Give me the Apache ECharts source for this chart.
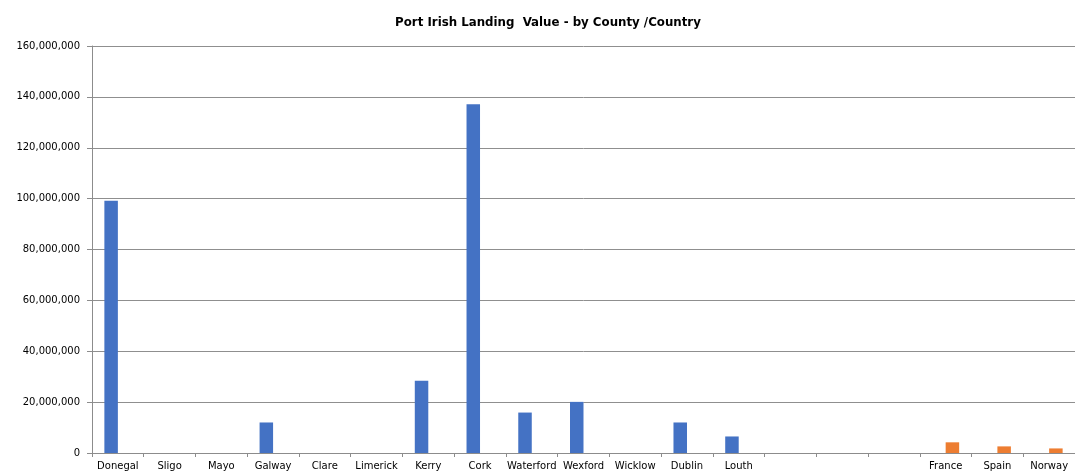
<!DOCTYPE html>
<html>
<head>
<meta charset="utf-8">
<script src="https://cdn.jsdelivr.net/npm/echarts@6/dist/echarts.min.js"></script>
<style>
  html, body { margin: 0; padding: 0; background: #fff; }
  #chart { width: 1075px; height: 475px; }
</style>
</head>
<body>
<div id="chart"></div>
<script>
// categories: Irish counties, three empty slots, then foreign countries
var categories = ['Donegal', 'Sligo', 'Mayo', 'Galway', 'Clare', 'Limerick', 'Kerry', 'Cork',
  'Waterford', 'Wexford', 'Wicklow', 'Dublin', 'Louth', '', ' ', '  ', 'France', 'Spain', 'Norway'];

// landing value by county (blue)
var countyValues = [99200000, null, null, 12000000, null, null, 28400000, 137100000,
  15900000, 20100000, null, 12000000, 6500000, null, null, null, null, null, null];

// landing value by country (orange)
var countryValues = [null, null, null, null, null, null, null, null,
  null, null, null, null, null, null, null, null, 4200000, 2600000, 1800000];

var yTicks = { min: 0, max: 160000000, interval: 20000000 };

var chart = echarts.init(document.getElementById('chart'));

var option = {
  animation: false,
  textStyle: { fontFamily: 'DejaVu Sans, sans-serif' },
  title: {
    text: 'Port Irish Landing  Value - by County /Country',
    left: 543,
    top: 12,
    textAlign: 'center',
    textStyle: { fontSize: 11.8, fontWeight: 'bold', color: '#000', fontFamily: 'DejaVu Sans, sans-serif' }
  },
  grid: { left: 92, right: -5, top: 46, bottom: 22 },
  xAxis: {
    type: 'category',
    data: categories,
    axisLine: { lineStyle: { color: '#8c8c8c', width: 1 } },
    axisTick: { show: true, length: 4, lineStyle: { color: '#8c8c8c' } },
    axisLabel: { interval: 0, fontSize: 10, color: '#000', margin: 8 }
  },
  yAxis: {
    type: 'value',
    min: yTicks.min,
    max: yTicks.max,
    interval: yTicks.interval,
    axisLine: { show: true, lineStyle: { color: '#8c8c8c' } },
    axisTick: { show: true, length: 5, lineStyle: { color: '#8c8c8c' } },
    splitLine: { lineStyle: { color: '#8f8f8f', width: 1 } },
    axisLabel: {
      fontSize: 10,
      color: '#000',
      margin: 12,
      formatter: function (v) { return v.toLocaleString('en-US'); }
    }
  },
  series: [
    {
      name: 'County',
      type: 'bar',
      data: countyValues,
      barWidth: 13.5,
      barGap: '0%',
      itemStyle: { color: '#4472C4' }
    },
    {
      name: 'Country',
      type: 'bar',
      data: countryValues,
      barWidth: 13.5,
      itemStyle: { color: '#ED7D31' }
    }
  ]
};

chart.setOption(option);
</script>
</body>
</html>
